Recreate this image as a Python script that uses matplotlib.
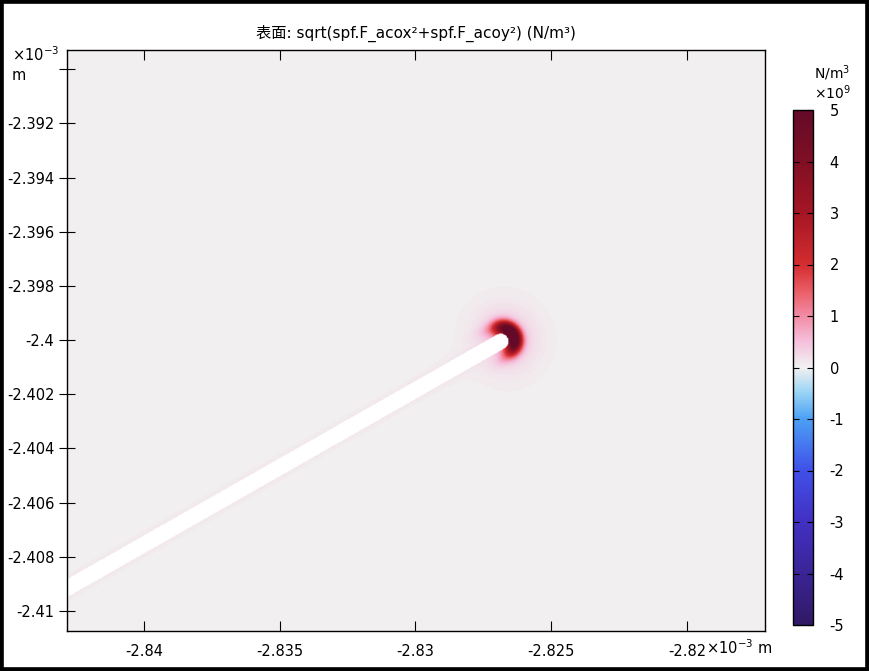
import numpy as np
import matplotlib
matplotlib.use('Agg')
from matplotlib import pyplot as plt
from matplotlib.colors import LinearSegmentedColormap, Normalize
from matplotlib.patches import Rectangle

plt.rcParams['font.family'] = ['DejaVu Sans', 'Noto Sans CJK SC']
plt.rcParams['axes.unicode_minus'] = False

# axis ranges (units of 1e-3 m)
x_range = [-2.842837, -2.817126]
y_range = [-2.410738, -2.389288]
x_ticks = [-2.84, -2.835, -2.83, -2.825, -2.82]
x_tick_labels = ['-2.84', '-2.835', '-2.83', '-2.825', '-2.82']
y_ticks = [-2.41, -2.408, -2.406, -2.404, -2.402, -2.4, -2.398, -2.396, -2.394, -2.392, -2.39]
y_tick_labels = ['-2.41', '-2.408', '-2.406', '-2.404', '-2.402', '-2.4', '-2.398', '-2.396', '-2.394', '-2.392', '']
cbar_ticks = [5, 4, 3, 2, 1, 0, -1, -2, -3, -4, -5]

# needle geometry
tip = (-2.82686, -2.40005)
angle_deg = 29.7
half_width = 0.00029

# field magnitudes (x1e9 N/m^3)
peak_ring = 6.5
halo_level = 2.6
edge_level = 0.12
outer_level = 0.15

cmap_stops = [
    (0.00, (48, 25, 100)),
    (0.10, (58, 36, 150)),
    (0.20, (66, 48, 195)),
    (0.30, (64, 80, 232)),
    (0.40, (75, 160, 245)),
    (0.45, (150, 210, 245)),
    (0.50, (241, 241, 241)),
    (0.55, (245, 192, 220)),
    (0.60, (243, 140, 165)),
    (0.65, (233, 92, 100)),
    (0.70, (212, 45, 48)),
    (0.80, (165, 22, 36)),
    (0.90, (128, 15, 36)),
    (1.00, (100, 10, 40)),
]
cmap = LinearSegmentedColormap.from_list(
    'wave', [(p, tuple(c / 255 for c in rgb)) for p, rgb in cmap_stops])
cmap.set_bad('white')

# build surface on a grid
px = 0.005 / 135.7
xs = np.linspace(x_range[0], x_range[1], 900)
ys = np.linspace(y_range[0], y_range[1], 750)
X, Y = np.meshgrid(xs, ys)
ux, uy = np.cos(np.radians(angle_deg)), np.sin(np.radians(angle_deg))
dx, dy = X - tip[0], Y - tip[1]
t = dx * ux + dy * uy
tc = np.minimum(t, 0)
d_seg = np.hypot(dx - tc * ux, dy - tc * uy)
r = np.hypot(dx, dy) + 1e-12
e = d_seg - half_width
cos_th = t / r
fwd = ((1 + cos_th) / 2)

F = (peak_ring * np.exp(-((e - 6 * px) / (7 * px)) ** 2) * fwd ** 2
     + halo_level * np.exp(-r / (12 * px)) * fwd ** 0.6
     + edge_level * np.exp(-np.maximum(e, 0) / (4 * px))
     + outer_level * np.exp(-r / (25 * px)))
F = np.ma.masked_where(e < 0, F)

fig = plt.figure(figsize=(8.69, 6.71), dpi=100)
ax = fig.add_axes([67 / 869, 40 / 671, 698 / 869, 581 / 671])
im = ax.imshow(F, extent=[x_range[0], x_range[1], y_range[0], y_range[1]],
               origin='lower', cmap=cmap, norm=Normalize(-5, 5),
               interpolation='bilinear', aspect='auto')
ax.set_xlim(x_range)
ax.set_ylim(y_range)
ax.set_xticks(x_ticks)
ax.set_xticklabels(x_tick_labels, fontsize=10.5)
ax.set_yticks(y_ticks)
ax.set_yticklabels(y_tick_labels, fontsize=10.5)
ax.tick_params(axis='x', direction='in', length=7, top=True, pad=9)
ax.tick_params(axis='y', direction='inout', length=12, pad=3)
for s in ax.spines.values():
    s.set_linewidth(1.0)
ax.set_title('表面: sqrt(spf.F_acox²+spf.F_acoy²) (N/m³)', fontsize=11, pad=9)

fig.text(12 / 869, 1 - 55 / 671, '×10$^{-3}$', fontsize=10.5, va='center', ha='left')
fig.text(12 / 869, 1 - 76 / 671, 'm', fontsize=10.5, va='center', ha='left')
fig.text(706 / 869, 1 - 648 / 671, '×10$^{-3}$ m', fontsize=10.5, va='center', ha='left')

cax = fig.add_axes([793 / 869, 46 / 671, 20 / 869, 515 / 671])
cb = fig.colorbar(im, cax=cax, ticks=cbar_ticks)
cb.ax.set_yticklabels([str(v) for v in cbar_ticks], fontsize=10.5)
cb.ax.tick_params(direction='in', length=4, left=True, pad=12)
cb.outline.set_linewidth(1.0)
fig.text(832 / 869, 1 - 73 / 671, 'N/m$^3$', fontsize=10, ha='center', va='center')
fig.text(832 / 869, 1 - 93 / 671, '×10$^9$', fontsize=10, ha='center', va='center')

fig.patches.append(Rectangle((0, 0), 1, 1, transform=fig.transFigure, fill=False,
                             edgecolor='black', linewidth=5.5))

fig.savefig('out.png', dpi=100)
